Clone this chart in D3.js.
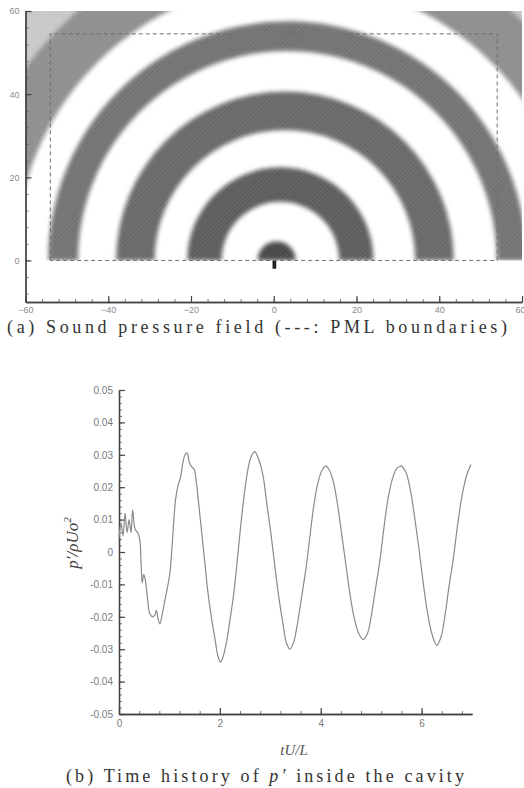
<!DOCTYPE html>
<html lang="en">
<head>
<meta charset="UTF-8">
<title>Sound pressure field and time history</title>
<script src="https://cdn.jsdelivr.net/npm/d3@7"></script>
<style>
  body { margin: 0; background: #fff; }
  svg { display: block; }
  .tick-label { font-family: "Liberation Sans", Arial, sans-serif; font-size: 9px; fill: #8a8a8a; }
  .tick-label-b { font-family: "Liberation Sans", Arial, sans-serif; font-size: 10px; fill: #7a7a7a; }
  .caption { font-family: "Liberation Serif", "Times New Roman", serif; font-size: 18px; fill: #333; }
</style>
</head>
<body>
<div id="chart"></div>
<script>
// ---- panel (a): sound pressure field ----
var fieldX = [-60, 60];
var fieldY = [-10, 60];
var fieldXTicks = [-60, -40, -20, 0, 20, 40, 60];
var fieldYTicks = [0, 20, 40, 60];
// positive-pressure bands (semi-annuli around the cavity), in field units
var ringCx    = [0.7, 1.6, 2.7, 3.3, 5.0, 5.0];
var ringInner = [0, 14.2, 31.5, 50.6, 67.5, 80];
var ringOuter = [4.6, 22.5, 40.8, 57.8, 80, 96];
// PML boundaries
var pmlX = [-54, 54];
var pmlTop = 54.5;
// cavity mark under the source
var cavityX = [-0.3, 0.6];
var cavityY = [-2, 0];

// ---- panel (b): time history of p' ----
var timeTicks = [0, 2, 4, 6];
var pTicks = [-0.05, -0.04, -0.03, -0.02, -0.01, 0, 0.01, 0.02, 0.03, 0.04, 0.05];
var tValues = [0.00, 0.04, 0.08, 0.12, 0.16, 0.20, 0.24, 0.27, 0.32, 0.37, 0.41, 0.44, 0.46, 0.49, 0.52,
  0.57, 0.61, 0.66, 0.71, 0.74, 0.78, 0.81, 0.86, 0.91, 0.96, 1.01, 1.04, 1.08, 1.12, 1.17, 1.22,
  1.26, 1.31, 1.35, 1.39, 1.43, 1.49, 1.53, 1.58, 1.64, 1.70, 1.76, 1.83, 1.90, 1.96, 2.01, 2.06,
  2.13, 2.20, 2.27, 2.33, 2.40, 2.47, 2.54, 2.61, 2.69, 2.76, 2.85, 2.93, 3.01, 3.08, 3.16, 3.25,
  3.32, 3.39, 3.46, 3.54, 3.62, 3.70, 3.78, 3.86, 3.94, 4.02, 4.10, 4.18, 4.26, 4.34, 4.42, 4.50,
  4.58, 4.66, 4.75, 4.84, 4.93, 5.01, 5.09, 5.17, 5.25, 5.33, 5.42, 5.51, 5.60, 5.69, 5.78, 5.86,
  5.94, 6.02, 6.11, 6.20, 6.30, 6.39, 6.47, 6.55, 6.63, 6.72, 6.81, 6.90, 6.98];
var pValues = [0.004, 0.009, 0.005, 0.012, 0.006, 0.010, 0.006, 0.013, 0.007, 0.006, 0.004, -0.004, -0.0095, -0.007, -0.0085,
  -0.015, -0.019, -0.020, -0.0195, -0.018, -0.021, -0.0222, -0.019, -0.0149, -0.011, -0.0065, -0.001, 0.008, 0.016, 0.0205, 0.023,
  0.027, 0.030, 0.0306, 0.028, 0.0265, 0.0255, 0.022, 0.015, 0.006, -0.003, -0.012, -0.020, -0.0265, -0.032, -0.034, -0.0325,
  -0.028, -0.021, -0.0135, -0.005, 0.006, 0.016, 0.024, 0.029, 0.031, 0.029, 0.024, 0.015, 0.006, -0.003, -0.013, -0.022,
  -0.028, -0.030, -0.028, -0.022, -0.014, -0.006, 0.004, 0.014, 0.021, 0.025, 0.0265, 0.025, 0.021, 0.014, 0.005, -0.004,
  -0.013, -0.020, -0.025, -0.027, -0.025, -0.019, -0.011, -0.003, 0.007, 0.016, 0.0225, 0.0258, 0.0265, 0.0245, 0.019, 0.011,
  0.002, -0.008, -0.018, -0.025, -0.0288, -0.026, -0.019, -0.010, -0.002, 0.009, 0.018, 0.024, 0.027];

var W = 524, H = 788;
var svg = d3.select("#chart").append("svg").attr("width", W).attr("height", H);
var defs = svg.append("defs");

defs.append("filter").attr("id", "soft").attr("x", "-10%").attr("y", "-10%").attr("width", "120%").attr("height", "120%")
  .append("feGaussianBlur").attr("stdDeviation", 2);

var hatch = defs.append("pattern").attr("id", "hatch").attr("patternUnits", "userSpaceOnUse")
  .attr("width", 3).attr("height", 3).attr("patternTransform", "rotate(45)");
hatch.append("line").attr("x1", 0).attr("y1", 0).attr("x2", 0).attr("y2", 3)
  .attr("stroke", "#fff").attr("stroke-width", 0.8).attr("stroke-opacity", 0.22);

// scales for panel (a)
var x = d3.scaleLinear().domain(fieldX).range([25.5, 522]);
var y = d3.scaleLinear().domain(fieldY).range([302, 11]);
var k = (x(1) - x(0));
var shade = d3.scaleOrdinal().domain(d3.range(ringCx.length))
  .range(["#474747", "#5c5c5c", "#686868", "#727272", "#8e8e8e", "#c8c8c8"]);

defs.append("clipPath").attr("id", "fieldClip").append("rect")
  .attr("x", x(-60)).attr("y", y(60)).attr("width", x(60) - x(-60)).attr("height", y(0) - y(60));

var arc = d3.arc().startAngle(-Math.PI / 2).endAngle(Math.PI / 2);
var rings = d3.range(ringCx.length).map(function (i) {
  return { i: i, cx: ringCx[i], r0: ringInner[i], r1: ringOuter[i] };
});

var field = svg.append("g").attr("clip-path", "url(#fieldClip)");
var blurred = field.append("g").attr("filter", "url(#soft)");
// draw outer bands first
blurred.selectAll("path.ring")
  .data(rings.slice().reverse())
  .enter().append("path")
  .attr("class", "ring")
  .attr("transform", function (d) { return "translate(" + x(d.cx) + "," + y(0) + ")"; })
  .attr("d", function (d) { return arc({ innerRadius: d.r0 * k, outerRadius: d.r1 * k }); })
  .attr("fill", function (d) { return shade(d.i); });
field.selectAll("path.tex")
  .data(rings)
  .enter().append("path")
  .attr("class", "tex")
  .attr("transform", function (d) { return "translate(" + x(d.cx) + "," + y(0) + ")"; })
  .attr("d", function (d) { return arc({ innerRadius: d.r0 * k, outerRadius: d.r1 * k }); })
  .attr("fill", "url(#hatch)");

// cavity mark
svg.append("rect")
  .attr("x", x(cavityX[0])).attr("y", y(cavityY[1]))
  .attr("width", x(cavityX[1]) - x(cavityX[0])).attr("height", y(cavityY[0]) - y(cavityY[1]))
  .attr("fill", "#222");

// PML dashed boundaries
var pml = d3.line().x(function (d) { return x(d[0]); }).y(function (d) { return y(d[1]); });
svg.append("path")
  .attr("d", pml([[pmlX[0], 0], [pmlX[0], pmlTop], [pmlX[1], pmlTop], [pmlX[1], 0], [pmlX[0], 0]]))
  .attr("fill", "none").attr("stroke", "#6e6e6e").attr("stroke-width", 1)
  .attr("stroke-dasharray", "4,3");

// axes
function styleAxis(cls) {
  return function (g) {
    g.select(".domain").attr("stroke", "#444").attr("stroke-width", 1.3);
    g.selectAll(".tick line").attr("stroke", "#444").attr("stroke-width", 1.2);
    g.selectAll(".tick text").attr("class", cls).attr("fill", null);
  };
}
function minor(g, axis) {
  g.call(axis.tickFormat("").tickSizeOuter(0));
  g.select(".domain").remove();
  g.selectAll(".tick line").attr("stroke", "#555").attr("stroke-width", 0.8);
}

svg.append("g").attr("transform", "translate(0," + y(-10) + ")")
  .call(function (g) { minor(g, d3.axisTop(x).tickValues(d3.range(-60, 61, 4)).tickSize(3)); });
svg.append("g").attr("transform", "translate(0," + y(-10) + ")")
  .call(d3.axisBottom(x).tickValues(fieldXTicks).tickSize(0).tickSizeOuter(0).tickPadding(5))
  .call(styleAxis("tick-label"))
  .call(function (g) {
    // last label sits at the page edge: keep it inside
    g.selectAll(".tick text").filter(function (d) { return d === 60; })
      .attr("text-anchor", "end").attr("dx", 3);
  });
svg.append("g").attr("transform", "translate(0," + y(-10) + ")")
  .call(d3.axisTop(x).tickValues(fieldXTicks).tickSize(6).tickFormat("").tickSizeOuter(0))
  .call(styleAxis("tick-label"));

svg.append("g").attr("transform", "translate(" + x(-60) + ",0)")
  .call(function (g) { minor(g, d3.axisRight(y).tickValues(d3.range(-8, 61, 4)).tickSize(3)); });
svg.append("g").attr("transform", "translate(" + x(-60) + ",0)")
  .call(d3.axisLeft(y).tickValues(fieldYTicks).tickSize(0).tickSizeOuter(0).tickPadding(6))
  .call(styleAxis("tick-label"));
svg.append("g").attr("transform", "translate(" + x(-60) + ",0)")
  .call(d3.axisRight(y).tickValues(fieldYTicks).tickSize(6).tickFormat("").tickSizeOuter(0))
  .call(styleAxis("tick-label"));

svg.append("text").attr("class", "caption")
  .attr("x", 7).attr("y", 333)
  .attr("textLength", 500).attr("lengthAdjust", "spacing")
  .text("(a)  Sound pressure field (---: PML boundaries)");

// ---- panel (b) ----
var tx = d3.scaleLinear().domain([0, 7]).range([119, 472]);
var py = d3.scaleLinear().domain([-0.05, 0.05]).range([714, 390]);

svg.append("g").attr("transform", "translate(0," + py(-0.05) + ")")
  .call(function (g) { minor(g, d3.axisTop(tx).tickValues(d3.range(0, 7.01, 0.4)).tickSize(3)); });
svg.append("g").attr("transform", "translate(0," + py(-0.05) + ")")
  .call(d3.axisBottom(tx).tickValues(timeTicks).tickSize(0).tickSizeOuter(0).tickPadding(6).tickFormat(d3.format("d")))
  .call(styleAxis("tick-label-b"));
svg.append("g").attr("transform", "translate(0," + py(-0.05) + ")")
  .call(d3.axisTop(tx).tickValues(timeTicks).tickSize(6).tickFormat("").tickSizeOuter(0))
  .call(styleAxis("tick-label-b"));

svg.append("g").attr("transform", "translate(" + tx(0) + ",0)")
  .call(function (g) { minor(g, d3.axisRight(py).tickValues(d3.range(-50, 51, 2).map(function (v) { return v / 1000; })).tickSize(3)); });
svg.append("g").attr("transform", "translate(" + tx(0) + ",0)")
  .call(d3.axisLeft(py).tickValues(pTicks).tickSize(0).tickSizeOuter(0).tickPadding(6)
    .tickFormat(function (d) { return d === 0 ? "0" : d3.format(".2f")(d).replace("\u2212", "-"); }))
  .call(styleAxis("tick-label-b"));
svg.append("g").attr("transform", "translate(" + tx(0) + ",0)")
  .call(d3.axisRight(py).tickValues(pTicks).tickSize(6).tickFormat("").tickSizeOuter(0))
  .call(styleAxis("tick-label-b"));

var series = tValues.map(function (t, i) { return { t: t, p: pValues[i] }; });
var line = d3.line()
  .x(function (d) { return tx(d.t); })
  .y(function (d) { return py(d.p); })
  .curve(d3.curveCatmullRom.alpha(0.5));
svg.append("path").datum(series)
  .attr("d", line)
  .attr("fill", "none").attr("stroke", "#8a8a8a").attr("stroke-width", 1.2);

// axis titles
var yt = svg.append("text")
  .attr("transform", "translate(78,543) rotate(-90)")
  .attr("text-anchor", "middle")
  .style("font-family", "'Liberation Serif', serif").style("font-style", "italic")
  .style("font-size", "17px").attr("fill", "#444");
yt.append("tspan").text("p\u2032/\u03c1Uo");
yt.append("tspan").attr("dy", -7).style("font-size", "11px").text("2");

svg.append("text")
  .attr("x", 294).attr("y", 755).attr("text-anchor", "middle")
  .style("font-family", "'Liberation Serif', serif").style("font-style", "italic")
  .style("font-size", "15px").attr("fill", "#555")
  .text("tU/L");

var cap = svg.append("text").attr("class", "caption")
  .attr("x", 66).attr("y", 782)
  .attr("textLength", 398).attr("lengthAdjust", "spacing");
cap.append("tspan").text("(b)  Time history of ");
cap.append("tspan").style("font-style", "italic").text("p\u2032");
cap.append("tspan").text(" inside the cavity");
</script>
</body>
</html>
